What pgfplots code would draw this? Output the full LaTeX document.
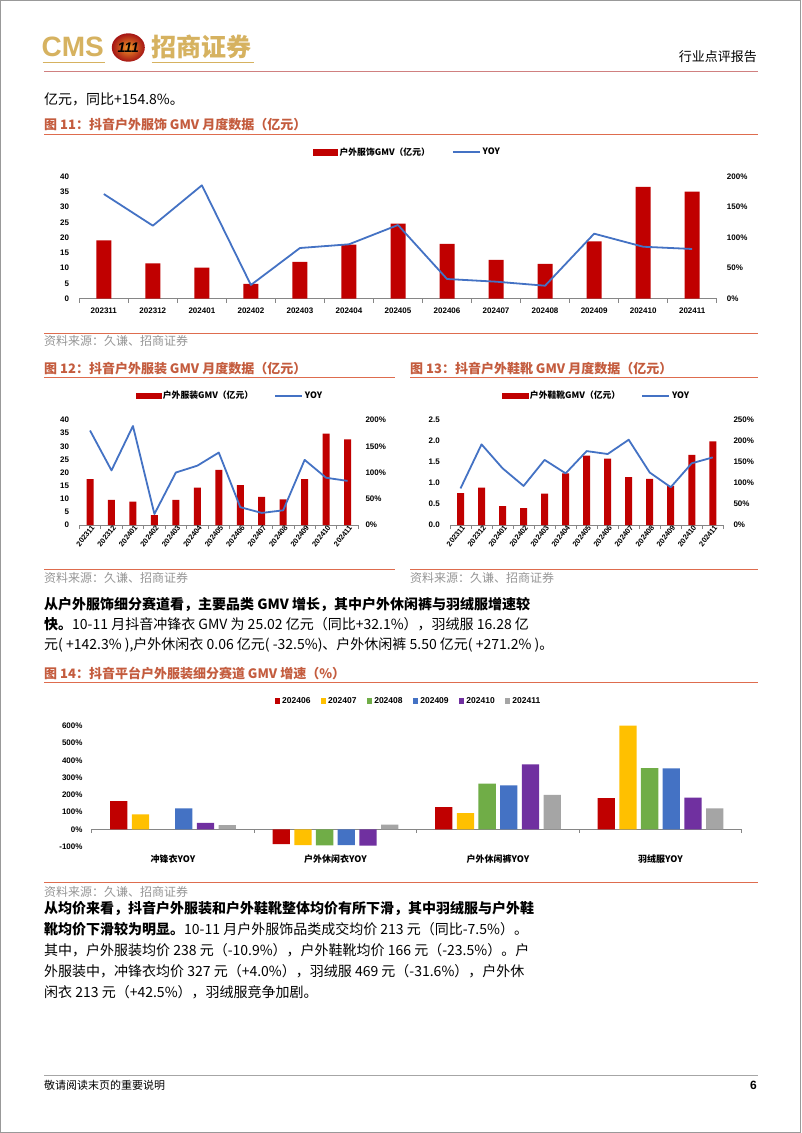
\documentclass[border=0pt]{standalone}
\usepackage{pgfplots}
\pgfplotsset{compat=1.18}
\usepackage{pgfplotstable}
\usepackage{fontspec}
\setmainfont{Noto Sans CJK SC}
\newfontfamily\lat{Liberation Sans}

\definecolor{cmsred}{RGB}{192,0,0}
\definecolor{yoyblue}{RGB}{68,114,196}
\definecolor{cyel}{RGB}{255,192,0}
\definecolor{cgreen}{RGB}{112,173,71}
\definecolor{cpurple}{RGB}{112,48,160}
\definecolor{cgray}{RGB}{165,165,165}
\definecolor{gold}{RGB}{214,178,96}
\definecolor{ttl}{RGB}{196,92,62}
\definecolor{ttlline}{RGB}{222,108,78}
\definecolor{hdrline}{RGB}{208,128,128}
\definecolor{srcgray}{RGB}{150,150,150}
\definecolor{axgray}{RGB}{134,134,134}
\definecolor{logoin}{RGB}{240,150,40}
\definecolor{logoout}{RGB}{165,20,20}

\newcommand{\fs}[1]{\fontsize{#1}{#1}\selectfont}

% fig 11: outdoor apparel total
\pgfplotstableread{
x  gmv   yoy
0  19.1  171.6
1  11.6  119.7
2  10.2  185.9
3  4.9   22.5
4  12.1  83.1
5  17.7  89.2
6  24.6  120.8
7  18.0  32.3
8  12.7  27.9
9  11.4  21.3
10 18.8  106.6
11 36.7  85.2
12 35.1  81.5
}\dataA
% fig 12: outdoor clothing
\pgfplotstableread{
x  gmv   yoy
0  17.5  180
1  9.6   104
2  8.9   188.6
3  3.8   21
4  9.6   100
5  14.2  113
6  21.0  138
7  15.2  34
8  10.7  23
9  9.8   28
10 17.5  124
11 34.8  90
12 32.6  84
}\dataB
% fig 13: outdoor footwear
\pgfplotstableread{
x  gmv   yoy
0  0.76  87
1  0.89  192
2  0.45  135
3  0.40  93
4  0.75  155
5  1.23  123
6  1.65  176
7  1.58  169
8  1.14  203
9  1.10  125
10 0.93  90
11 1.67  147
12 1.99  161
}\dataC
% fig 14: segment growth
\pgfplotstableread{
x  m06  m07  m08  m09  m10  m11
0  164  87   nan  121  38   25
1  -85  -91  -93  -91  -95  27
2  129  94   264  255  376  199
3  181  600  355  353  183  121
}\dataD

\pgfplotsset{
  gmv/.style={scale only axis, anchor=south west, xmin=-0.5, xmax=12.5, ymin=0,
    axis x line=bottom, axis y line=left,
    x axis line style={-, axgray, line width=0.8pt}, y axis line style={-, draw=none},
    xtick={0,...,12}, minor xtick={-0.5,0.5,...,12.5},
    major tick length=0pt, minor tick length=4pt, tick align=outside,
    minor tick style={axgray, line width=0.7pt},
    xticklabels={202311,202312,202401,202402,202403,202404,202405,202406,202407,202408,202409,202410,202411},
    tick label style={font=\lat\bfseries\fs{8}, inner sep=0pt},
    yticklabel style={xshift=-10pt}},
  yoy/.style={scale only axis, anchor=south west, xmin=-0.5, xmax=12.5, ymin=0,
    hide x axis, axis y line=right, y axis line style={-, draw=none},
    major tick length=0pt,
    tick label style={font=\lat\bfseries\fs{8}, inner sep=0pt},
    yticklabel style={xshift=10pt},
    legend cell align=left,
    legend style={draw=none, fill=none, anchor=west, legend columns=2, font=\bfseries\fs{8.8},
      /tikz/every even column/.append style={column sep=20pt}}},
  rot/.style={xticklabel style={rotate=52, anchor=east, yshift=-3pt, xshift=1pt, font=\lat\bfseries\fs{7.5}}},
  yline/.style={yoyblue, line width=1.8pt, mark=none, line join=round,
    legend image code/.code={\draw[yoyblue, line width=1.8pt] (0pt,0pt) -- (27pt,0pt);}},
  sq/.style={fill=#1, draw=none,
    legend image code/.code={\fill[#1] (0pt,-2.6pt) rectangle (5.2pt,2.6pt);}}
}

\begin{document}
\begin{tikzpicture}[x=1pt, y=1pt, tx/.style={anchor=west, inner sep=0pt}]
\fill[white] (0,0) rectangle (802,-1133);
\path[use as bounding box] (0,0) rectangle (802,-1133);
\draw[gray!80, line width=1pt] (0.6,-0.6) rectangle (800.6,-1132.2);

% header
\node[tx, text=gold] at (41.5,-47) {\lat\bfseries\fs{28}CMS};
\shade[inner color=logoin, outer color=logoout] (128.3,-47.5) ellipse (16.5 and 14.2);
\node[text={RGB:red,250;green,215;blue,90}] at (128.3,-47.5) {\lat\bfseries\itshape\fs{14}111};
\node[tx, text=gold] at (151.5,-47) {\bfseries\fs{25}招商证券};
\draw[gold, line width=1pt] (42.5,-62.5) -- (105,-62.5);
\draw[gold, line width=1pt] (151.5,-62.5) -- (254,-62.5);
\node[anchor=east, inner sep=0pt] at (757,-56.5) {\fs{13}行业点评报告};
\draw[hdrline, line width=1pt] (44,-71.7) -- (758,-71.7);
\node[tx] at (44,-99) {\fs{14}亿元，同比+154.8\%。};

% fig 11 frame
\node[tx, text=ttl] at (44,-125) {\bfseries\fs{13}图 11：抖音户外服饰 GMV 月度数据（亿元）};
\draw[ttlline, line width=1pt] (44,-134) -- (758,-134);
\draw[ttlline, line width=1pt] (44,-333) -- (758,-333);
\node[tx, text=srcgray] at (44,-340.5) {\fs{12}资料来源：久谦、招商证券};

\begin{axis}[gmv, at={(79.3pt,-298.7pt)}, width=637.4pt, height=122pt, ymax=40,
  ytick={0,5,...,40}, yticklabels={0,5,10,15,20,25,30,35,40},
  xticklabel style={yshift=-9.5pt}, ybar, bar width=15pt]
\addplot[fill=cmsred, draw=none] table[x=x, y=gmv] {\dataA};
\end{axis}
\begin{axis}[yoy, at={(79.3pt,-298.7pt)}, width=637.4pt, height=122pt, ymax=200,
  ytick={0,50,...,200}, yticklabels={0\%,50\%,100\%,150\%,200\%},
  legend style={at={(0.362,1.2)}}]
\addlegendimage{legend image code/.code={\fill[cmsred] (0pt,-2.8pt) rectangle (24pt,2.8pt);}}
\addlegendentry{户外服饰GMV（亿元）}
\addplot[yline] table[x=x, y=yoy] {\dataA};
\addlegendentry{YOY}
\end{axis}

% fig 12 / 13 frame
\node[tx, text=ttl] at (44,-368.3) {\bfseries\fs{13}图 12：抖音户外服装 GMV 月度数据（亿元）};
\node[tx, text=ttl] at (410,-368.3) {\bfseries\fs{13}图 13：抖音户外鞋靴 GMV 月度数据（亿元）};
\draw[ttlline, line width=1pt] (44,-377.7) -- (395,-377.7);
\draw[ttlline, line width=1pt] (410,-377.7) -- (758,-377.7);
\draw[ttlline, line width=1pt] (44,-569) -- (395,-569);
\draw[ttlline, line width=1pt] (410,-569) -- (758,-569);
\node[tx, text=srcgray] at (44,-577.7) {\fs{12}资料来源：久谦、招商证券};
\node[tx, text=srcgray] at (410,-577.7) {\fs{12}资料来源：久谦、招商证券};

\begin{axis}[gmv, rot, at={(79.3pt,-525pt)}, width=279pt, height=105pt, ymax=40,
  ytick={0,5,...,40}, yticklabels={0,5,10,15,20,25,30,35,40},
  ybar, bar width=7pt]
\addplot[fill=cmsred, draw=none] table[x=x, y=gmv] {\dataB};
\end{axis}
\begin{axis}[yoy, at={(79.3pt,-525pt)}, width=279pt, height=105pt, ymax=200,
  ytick={0,50,...,200}, yticklabels={0\%,50\%,100\%,150\%,200\%},
  yticklabel style={xshift=-3pt},
  legend style={at={(0.190,1.231)}, /tikz/every even column/.append style={column sep=19pt}}]
\addlegendimage{legend image code/.code={\fill[cmsred] (0pt,-2.8pt) rectangle (25pt,2.8pt);}}
\addlegendentry{户外服装GMV（亿元）}
\addplot[yline] table[x=x, y=yoy] {\dataB};
\addlegendentry{YOY}
\end{axis}

\begin{axis}[gmv, rot, at={(450pt,-525pt)}, width=273.3pt, height=105pt, ymax=2.5,
  ytick={0,0.5,...,2.5}, yticklabels={0.0,0.5,1.0,1.5,2.0,2.5},
  ybar, bar width=7pt]
\addplot[fill=cmsred, draw=none] table[x=x, y=gmv] {\dataC};
\end{axis}
\begin{axis}[yoy, at={(450pt,-525pt)}, width=273.3pt, height=105pt, ymax=250,
  ytick={0,50,...,250}, yticklabels={0\%,50\%,100\%,150\%,200\%,250\%},
  legend style={at={(0.177,1.231)}, /tikz/every even column/.append style={column sep=19pt}}]
\addlegendimage{legend image code/.code={\fill[cmsred] (0pt,-2.8pt) rectangle (26pt,2.8pt);}}
\addlegendentry{户外鞋靴GMV（亿元）}
\addplot[yline] table[x=x, y=yoy] {\dataC};
\addlegendentry{YOY}
\end{axis}

% paragraph 1
\node[tx] at (44,-604) {\bfseries\fs{14}从户外服饰细分赛道看，主要品类 GMV 增长，其中户外休闲裤与羽绒服增速较};
\node[tx] at (44,-624.5) {\fs{14}\textbf{快。}10-11 月抖音冲锋衣 GMV 为 25.02 亿元（同比+32.1\%），羽绒服 16.28 亿};
\node[tx] at (44,-645) {\fs{14}元( +142.3\% ),户外休闲衣 0.06 亿元( -32.5\%)、户外休闲裤 5.50 亿元( +271.2\% )。};

% fig 14 frame
\node[tx, text=ttl] at (44,-673.3) {\bfseries\fs{13}图 14：抖音平台户外服装细分赛道 GMV 增速（\%）};
\draw[ttlline, line width=1pt] (44,-682.5) -- (758,-682.5);
\draw[ttlline, line width=1pt] (44,-882.7) -- (758,-882.7);
\node[tx, text=srcgray] at (44,-891.5) {\fs{12}资料来源：久谦、招商证券};

\begin{axis}[scale only axis, anchor=south west, at={(91.7pt,-846.6pt)}, width=650pt, height=120.9pt,
  xmin=-0.5, xmax=3.5, ymin=-100, ymax=600,
  axis x line=bottom, axis y line=left,
  x axis line style={-, draw=none}, y axis line style={-, draw=none},
  major tick length=0pt,
  xtick={0,1,2,3}, xticklabels={冲锋衣YOY,户外休闲衣YOY,户外休闲裤YOY,羽绒服YOY},
  ytick={-100,0,...,600}, yticklabels={-100\%,0\%,100\%,200\%,300\%,400\%,500\%,600\%},
  tick label style={inner sep=0pt},
  yticklabel style={font=\lat\bfseries\fs{8}, xshift=-9pt},
  xticklabel style={font=\bfseries\fs{9}, yshift=-8pt},
  ybar=4.4pt, bar width=17.3pt, clip=false,
  legend cell align=left,
  legend style={draw=none, fill=none, at={(0.277,1.204)}, anchor=west, legend columns=6,
    font=\lat\bfseries\fs{8.5}, /tikz/every even column/.append style={column sep=8.5pt}}]
\draw[axgray, line width=0.8pt] (axis cs:-0.5,0) -- (axis cs:3.5,0);
\draw[axgray, line width=0.7pt] (axis cs:-0.5,0) -- ++(0pt,-4pt);
\draw[axgray, line width=0.7pt] (axis cs:0.5,0) -- ++(0pt,-4pt);
\draw[axgray, line width=0.7pt] (axis cs:1.5,0) -- ++(0pt,-4pt);
\draw[axgray, line width=0.7pt] (axis cs:2.5,0) -- ++(0pt,-4pt);
\draw[axgray, line width=0.7pt] (axis cs:3.5,0) -- ++(0pt,-4pt);
\addplot[sq=cmsred] table[x=x, y=m06] {\dataD};
\addlegendentry{202406}
\addplot[sq=cyel] table[x=x, y=m07] {\dataD};
\addlegendentry{202407}
\addplot[sq=cgreen] table[x=x, y=m08] {\dataD};
\addlegendentry{202408}
\addplot[sq=yoyblue] table[x=x, y=m09] {\dataD};
\addlegendentry{202409}
\addplot[sq=cpurple] table[x=x, y=m10] {\dataD};
\addlegendentry{202410}
\addplot[sq=cgray] table[x=x, y=m11] {\dataD};
\addlegendentry{202411}
\end{axis}

% paragraph 2
\node[tx] at (44,-908) {\bfseries\fs{14}从均价来看，抖音户外服装和户外鞋靴整体均价有所下滑，其中羽绒服与户外鞋};
\node[tx] at (44,-929) {\fs{14}\textbf{靴均价下滑较为明显。}10-11 月户外服饰品类成交均价 213 元（同比-7.5\%）。};
\node[tx] at (44,-950) {\fs{14}其中，户外服装均价 238 元（-10.9\%），户外鞋靴均价 166 元（-23.5\%）。户};
\node[tx] at (44,-971) {\fs{14}外服装中，冲锋衣均价 327 元（+4.0\%），羽绒服 469 元（-31.6\%），户外休};
\node[tx] at (44,-992) {\fs{14}闲衣 213 元（+42.5\%），羽绒服竞争加剧。};

% footer
\draw[gray!70, line width=1pt] (44,-1075.5) -- (758,-1075.5);
\node[tx] at (44,-1085.5) {\fs{11}敬请阅读末页的重要说明};
\node[anchor=east, inner sep=0pt] at (757,-1085.5) {\lat\bfseries\fs{12}6};
\end{tikzpicture}
\end{document}
